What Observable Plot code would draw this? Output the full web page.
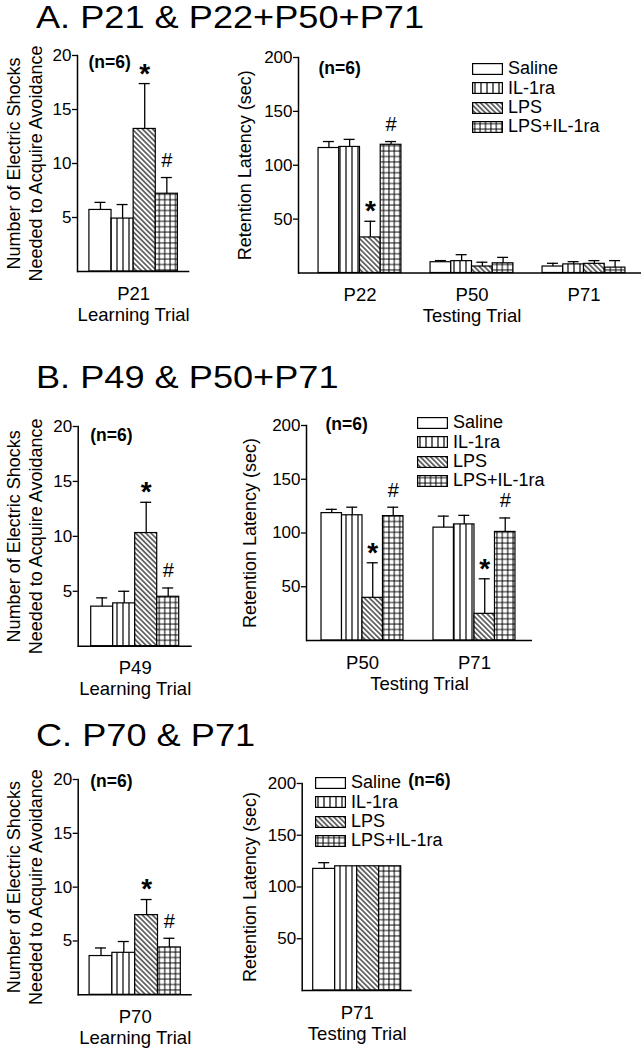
<!DOCTYPE html>
<html>
<head>
<meta charset="utf-8">
<script src="https://cdn.jsdelivr.net/npm/d3@7"></script>
<script src="https://cdn.jsdelivr.net/npm/@observablehq/plot@0.6"></script>
<style>
  body { margin: 0; background: #fff; }
  #root { position: relative; width: 641px; height: 1048px; overflow: hidden; background: #fff;
          font-family: "Liberation Sans", Arial, sans-serif; color: #000; }
  .title { position: absolute; left: 36px; font-size: 32px; line-height: 1; white-space: nowrap;
           transform: scaleX(1.13); transform-origin: left top; }
  .legend { position: absolute; font-size: 18px; line-height: 19.4px; white-space: nowrap; }
  .legend .row { display: flex; align-items: center; height: 19.4px; }
  .legend svg { margin-right: 5px; flex: none; }
</style>
</head>
<body>
<svg width="0" height="0" style="position:absolute">
  <defs>
    <pattern id="pat-vert" patternUnits="userSpaceOnUse" width="6" height="6">
      <rect width="6" height="6" fill="white"/>
      <line x1="3" y1="0" x2="3" y2="6" stroke="black" stroke-width="1.2"/>
    </pattern>
    <pattern id="pat-diag" patternUnits="userSpaceOnUse" width="3.6" height="3.6" patternTransform="rotate(-45)">
      <rect width="3.6" height="3.6" fill="white"/>
      <line x1="1.8" y1="0" x2="1.8" y2="3.6" stroke="black" stroke-width="1.1"/>
    </pattern>
    <pattern id="pat-grid" patternUnits="userSpaceOnUse" width="5.4" height="5.4">
      <rect width="5.4" height="5.4" fill="white"/>
      <path d="M2.7 0V5.4M0 2.7H5.4" stroke="black" stroke-width="1"/>
    </pattern>
  </defs>
</svg>
<div id="root"></div>
<script>
// ---------------- data ----------------
const treatments = ["Saline", "IL-1ra", "LPS", "LPS+IL-1ra"];
const fills = ["white", "url(#pat-vert)", "url(#pat-diag)", "url(#pat-grid)"];

const panelTitles = ["A. P21 & P22+P50+P71", "B. P49 & P50+P71", "C. P70 & P71"];

// A. learning (P21) and testing (P22, P50, P71)
const aLearnGroups = ["P21"];
const aLearnMean = [[5.7, 4.9, 13.2, 7.2]];
const aLearnSem  = [[0.7, 1.3, 4.2, 1.5]];
const aLearnSig  = ["P21"];
const aTestGroups = ["P22", "P50", "P71"];
const aTestMean = [[116, 117, 33, 119], [10, 11, 6, 9], [6, 8, 8.5, 5]];
const aTestSem  = [[6, 7, 15, 3], [1.5, 6, 4, 5.5], [3, 2.5, 3, 6.5]];
const aTestSig  = ["P22"];

// B. learning (P49) and testing (P50, P71)
const bLearnGroups = ["P49"];
const bLearnMean = [[3.6, 3.9, 10.3, 4.5]];
const bLearnSem  = [[0.8, 1.1, 2.8, 0.8]];
const bLearnSig  = ["P49"];
const bTestGroups = ["P50", "P71"];
const bTestMean = [[118.5, 116.5, 39.7, 115.7], [105, 108, 24.8, 101]];
const bTestSem  = [[3.5, 7.5, 32.6, 8.3], [10.7, 8.4, 32.6, 13]];
const bTestSig  = ["P50", "P71"];

// C. learning (P70) and testing (P71)
const cLearnGroups = ["P70"];
const cLearnMean = [[3.6, 3.9, 7.4, 4.4]];
const cLearnSem  = [[0.75, 1.05, 1.45, 0.85]];
const cLearnSig  = ["P70"];
const cTestGroups = ["P71"];
const cTestMean = [[117.5, 120, 120, 120]];
const cTestSem  = [[6, 0, 0, 0]];
const cTestSig  = [];

const learnTicks = [5, 10, 15, 20];
const testTicks = [50, 100, 150, 200];
const learnYLabel = "Number of Electric Shocks\nNeeded to Acquire Avoidance";
const testYLabel = "Retention Latency (sec)";
const learnXLabel = "Learning Trial";
const testXLabel = "Testing Trial";
const nLabel = "(n=6)";

// ---------------- drawing ----------------
const root = document.getElementById("root");
const FONT = "'Liberation Sans', Arial, Helvetica, sans-serif";

function panel(o) {
  const [L, T, W, H] = o.box;
  const [x0, x1, y0, y1] = o.frame;
  const bw = o.bw;
  const pxPerUnit = (x1 - x0) / (o.xDomain[1] - o.xDomain[0]);
  const capHalf = 5.5 / pxPerUnit;
  const data = o.groups.flatMap((g, gi) => treatments.map((t, ti) => ({
    group: g, treatment: t,
    value: o.mean[gi][ti],
    top: o.mean[gi][ti] + o.sem[gi][ti],
    center: gi + (ti - 1.5) * bw,
    sig: o.sig.includes(g)
  })));
  const errs = data.filter(d => d.top > d.value);
  const plot = Plot.plot({
    width: W, height: H,
    marginLeft: x0 - L, marginRight: L + W - x1,
    marginTop: y0 - T, marginBottom: T + H - y1,
    style: {fontFamily: FONT, fontSize: "17px", color: "#000", background: "transparent", overflow: "visible"},
    x: {domain: o.xDomain},
    y: {domain: [0, o.yMax]},
    color: {domain: treatments, range: fills},
    marks: [
      Plot.rect(data, {
        x1: d => d.center - bw / 2, x2: d => d.center + bw / 2,
        y1: () => 0, y2: "value",
        fill: "treatment", stroke: "black", strokeWidth: 1.2
      }),
      Plot.ruleX(errs, {x: "center", y1: "value", y2: "top", stroke: "black", strokeWidth: 1.3}),
      Plot.ruleY(errs, {y: "top", x1: d => d.center - capHalf, x2: d => d.center + capHalf, stroke: "black", strokeWidth: 1.3}),
      Plot.frame({anchor: "left", stroke: "black", strokeWidth: 1.5}),
      Plot.ruleY([0], {stroke: "black", strokeWidth: 1.5}),
      Plot.axisY({ticks: o.yTicks, tickSize: 5, tickPadding: 1, label: null, fontSize: 17, strokeWidth: 1.3}),
      Plot.axisX({ticks: o.groups.map((g, i) => i), tickFormat: i => o.groups[i], tickSize: 0,
                  tickPadding: 15, label: null, fontSize: 18.5}),
      Plot.text([o.xLabel], {frameAnchor: "bottom", lineAnchor: "top", dy: 36, fontSize: 18.5}),
      Plot.text([o.yLabel], {frameAnchor: "left", textAnchor: "middle", rotate: -90, lineAnchor: "top",
                             dx: o.yLabelDx, fontSize: 18, lineHeight: 1.17}),
      Plot.text([nLabel], {frameAnchor: "top-left", textAnchor: "start", lineAnchor: "middle",
                           dx: o.nPos[0], dy: o.nPos[1], fontWeight: "bold", fontSize: 17.5}),
      Plot.text(data.filter(d => d.sig && d.treatment === "LPS"),
                {x: "center", y: "top", text: () => "*", fontSize: 28, fontWeight: "bold", lineAnchor: "middle", dy: -10}),
      Plot.text(data.filter(d => d.sig && d.treatment === "LPS+IL-1ra"),
                {x: "center", y: "top", text: () => "#", fontSize: 20, lineAnchor: "middle", dy: -17})
    ]
  });
  plot.style.position = "absolute";
  plot.style.left = L + "px";
  plot.style.top = T + "px";
  root.appendChild(plot);
}

function legend(left, centerTop) {
  const div = document.createElement("div");
  div.className = "legend";
  div.style.left = left + "px";
  div.style.top = (centerTop - 9.7) + "px";
  treatments.forEach((t, i) => {
    const row = document.createElement("div");
    row.className = "row";
    row.innerHTML = `<svg width="31" height="12"><rect x="0.6" y="0.6" width="29.8" height="10.8" fill="${fills[i]}" stroke="black" stroke-width="1.2"/></svg><span>${t}</span>`;
    div.appendChild(row);
  });
  root.appendChild(div);
}

function title(text, top) {
  const d = document.createElement("div");
  d.className = "title";
  d.style.top = top + "px";
  d.textContent = text;
  root.appendChild(d);
}

title(panelTitles[0], 1);
title(panelTitles[1], 361);
title(panelTitles[2], 719);

const single = [-0.5, 0.5];

panel({groups: aLearnGroups, mean: aLearnMean, sem: aLearnSem, sig: aLearnSig,
       box: [0, 35, 235, 295], frame: [77, 189.3, 55, 271], xDomain: single, bw: 0.197,
       yMax: 20, yTicks: learnTicks, yLabel: learnYLabel, xLabel: learnXLabel, yLabelDx: -72, nPos: [11, 7]});
panel({groups: aTestGroups, mean: aTestMean, sem: aTestSem, sig: aTestSig,
       box: [235, 35, 410, 295], frame: [298, 645, 57, 272.5], xDomain: [-0.549, 2.549], bw: 0.185,
       yMax: 200, yTicks: testTicks, yLabel: testYLabel, xLabel: testXLabel, yLabelDx: -62, nPos: [20, 11]});

panel({groups: bLearnGroups, mean: bLearnMean, sem: bLearnSem, sig: bLearnSig,
       box: [0, 400, 235, 305], frame: [77.7, 191.7, 426, 645.7], xDomain: single, bw: 0.193,
       yMax: 20, yTicks: learnTicks, yLabel: learnYLabel, xLabel: learnXLabel, yLabelDx: -72.7, nPos: [12, 9]});
panel({groups: bTestGroups, mean: bTestMean, sem: bTestSem, sig: bTestSig,
       box: [235, 400, 410, 305], frame: [306, 532, 425, 640], xDomain: [-0.5, 1.518], bw: 0.183,
       yMax: 200, yTicks: testTicks, yLabel: testYLabel, xLabel: testXLabel, yLabelDx: -65, nPos: [19, -1]});

panel({groups: cLearnGroups, mean: cLearnMean, sem: cLearnSem, sig: cLearnSig,
       box: [0, 755, 235, 293], frame: [77.7, 191.7, 779, 994.3], xDomain: single, bw: 0.2,
       yMax: 20, yTicks: learnTicks, yLabel: learnYLabel, xLabel: learnXLabel, yLabelDx: -72.7, nPos: [12, 2]});
panel({groups: cTestGroups, mean: cTestMean, sem: cTestSem, sig: cTestSig,
       box: [235, 755, 410, 293], frame: [301.7, 411.7, 783, 990], xDomain: single, bw: 0.2,
       yMax: 200, yTicks: testTicks, yLabel: testYLabel, xLabel: testXLabel, yLabelDx: -61, nPos: [106, -3]});

legend(472, 69);
legend(417, 423);
legend(315, 783);
</script>
</body>
</html>
